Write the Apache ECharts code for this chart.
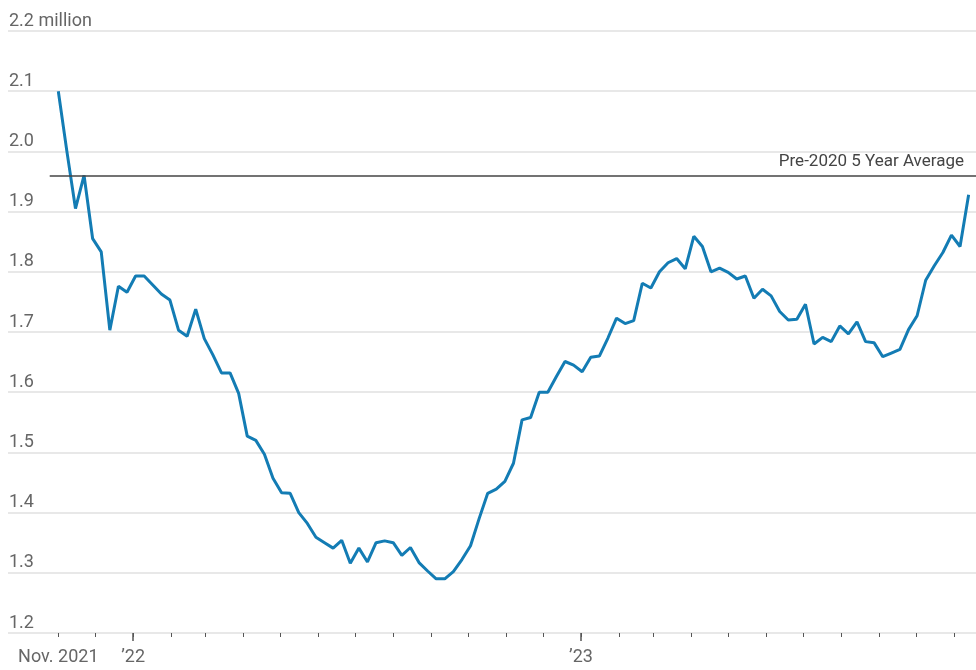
<!DOCTYPE html>
<html>
<head>
<meta charset="utf-8">
<script src="https://cdn.jsdelivr.net/npm/echarts@6/dist/echarts.min.js"></script>
<style>
  html, body { margin: 0; padding: 0; background: #fff; }
  #chart { width: 976px; height: 670px; }
</style>
</head>
<body>
<div id="chart"></div>
<script>
// weekly series, first week starts 2021-11-01
const firstWeek = '2021-11-01'
const values = [
  2.10, 2.00, 1.905, 1.96, 1.855, 1.833, 1.703, 1.776, 1.766, 1.793,
  1.793, 1.778, 1.763, 1.753, 1.703, 1.693, 1.738, 1.689, 1.662, 1.632,
  1.632, 1.598, 1.527, 1.520, 1.497, 1.457, 1.433, 1.432, 1.400, 1.382,
  1.359, 1.350, 1.341, 1.354, 1.316, 1.341, 1.318, 1.350, 1.353, 1.350,
  1.329, 1.342, 1.317, 1.303, 1.290, 1.290, 1.302, 1.322, 1.345, 1.390,
  1.432, 1.439, 1.452, 1.482, 1.554, 1.558, 1.600, 1.600, 1.626, 1.651,
  1.645, 1.634, 1.658, 1.660, 1.690, 1.723, 1.714, 1.719, 1.781, 1.773,
  1.800, 1.815, 1.822, 1.805, 1.859, 1.842, 1.800, 1.806, 1.799, 1.788,
  1.793, 1.756, 1.771, 1.760, 1.734, 1.720, 1.721, 1.746, 1.680, 1.691,
  1.684, 1.710, 1.697, 1.717, 1.684, 1.682, 1.659, 1.665, 1.671, 1.704,
  1.727, 1.786, 1.810, 1.832, 1.861, 1.842, 1.928
]
const average = 1.96
const averageLabel = 'Pre-2020 5 Year Average'
const yearTicks = ['2022-01-01', '2023-01-01']
const xLabels = { '2021-11-01': 'Nov. 2021', '2022-01-01': '\u201922', '2023-01-01': '\u201923' }
const monthTicks = [
  '2021-11-01', '2021-12-01', '2022-01-01', '2022-02-01', '2022-03-01', '2022-04-01',
  '2022-05-01', '2022-06-01', '2022-07-01', '2022-08-01', '2022-09-01', '2022-10-01',
  '2022-11-01', '2022-12-01', '2023-01-01', '2023-02-01', '2023-03-01', '2023-04-01',
  '2023-05-01', '2023-06-01', '2023-07-01', '2023-08-01', '2023-09-01', '2023-10-01',
  '2023-11-01'
]

// x is measured in days since 1970-01-01 (UTC), on a plain value axis
const toDay = s => Date.parse(s + 'T00:00:00Z') / 86400000
const dayKey = d => new Date(d * 86400000).toISOString().slice(0, 10)

const start = toDay(firstWeek)
const seriesData = values.map((v, i) => [start + i * 7, v])

const xMin = toDay('2021-09-21')
const xMax = toDay('2023-11-19')
const font = "'Liberation Sans Narrow', 'Roboto', sans-serif"

const chart = echarts.init(document.getElementById('chart'))
chart.setOption({
  animation: false,
  grid: { left: 8, right: 0, top: 31, bottom: 37 },
  xAxis: [{
    type: 'value',
    min: xMin,
    max: xMax,
    axisLine: { show: false },
    splitLine: { show: false },
    axisTick: {
      show: true,
      customValues: monthTicks.map(toDay),
      length: 4,
      lineStyle: { color: '#555', width: 1 }
    },
    axisLabel: {
      customValues: Object.keys(xLabels).map(toDay),
      formatter: v => xLabels[dayKey(v)] || '',
      margin: 15,
      fontFamily: font,
      fontSize: 18,
      color: '#666'
    }
  }, {
    type: 'value',
    min: xMin,
    max: xMax,
    position: 'bottom',
    axisLine: { show: false },
    splitLine: { show: false },
    axisLabel: { show: false },
    axisTick: {
      show: true,
      customValues: yearTicks.map(toDay),
      length: 8,
      lineStyle: { color: '#555', width: 1.5 }
    }
  }],
  yAxis: {
    type: 'value',
    min: 1.2,
    max: 2.2,
    interval: 0.1,
    axisLine: { show: false },
    axisTick: { show: false },
    splitLine: { lineStyle: { color: '#e8e8e8', width: 2 } },
    axisLabel: {
      inside: true,
      margin: 1,
      verticalAlign: 'bottom',
      lineHeight: 18,
      padding: [0, 0, 1, 0],
      fontFamily: font,
      fontSize: 18,
      color: '#666',
      formatter: v => Math.abs(v - 2.2) < 1e-6 ? '2.2 million' : v.toFixed(1)
    }
  },
  series: [{
    type: 'line',
    data: seriesData,
    showSymbol: false,
    lineStyle: { color: '#137cb4', width: 3 },
    z: 3,
    markLine: {
      silent: true,
      symbol: 'none',
      lineStyle: { color: '#444', width: 1.5, type: 'solid' },
      label: {
        position: 'insideEndTop',
        formatter: averageLabel,
        fontFamily: font,
        fontSize: 17,
        color: '#444',
        distance: [12, 5]
      },
      data: [[
        { coord: [toDay('2021-10-25'), average] },
        { coord: [xMax, average] }
      ]]
    }
  }]
})
</script>
</body>
</html>
